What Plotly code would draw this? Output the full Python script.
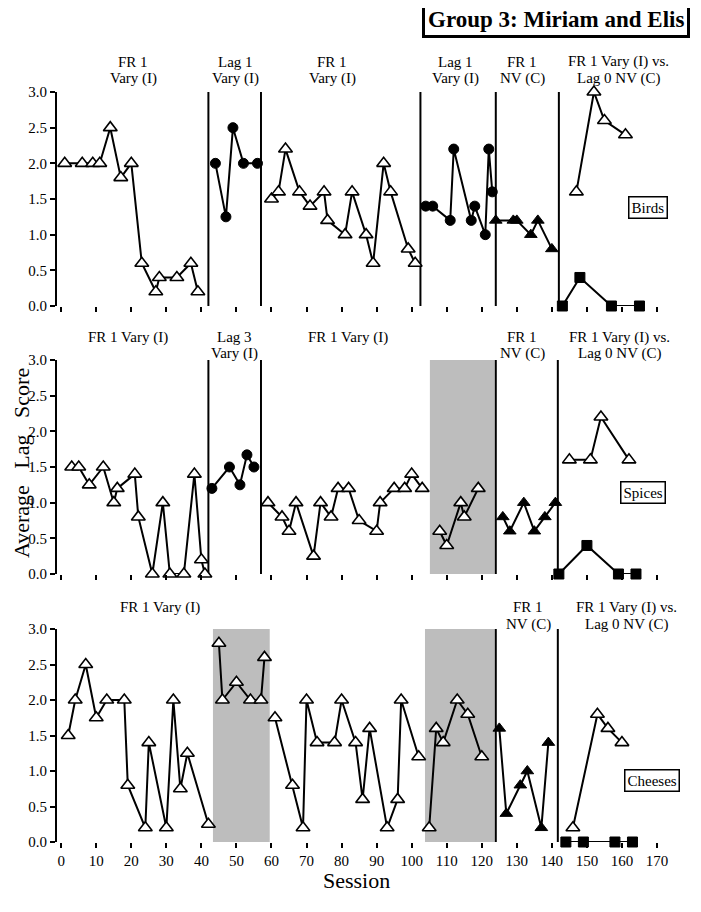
import plotly.graph_objects as go

# ---------------- data ----------------
sessions_ticks = list(range(0, 171, 10))
y_ticks = [0.0, 0.5, 1.0, 1.5, 2.0, 2.5, 3.0]

birds_fr1a_x = [1, 6, 9, 11, 14, 17, 20, 23, 27, 28, 33, 37, 39]
birds_fr1a_y = [2.0, 2.0, 2.0, 2.0, 2.5, 1.8, 2.0, 0.6, 0.2, 0.4, 0.4, 0.6, 0.2]
birds_lag1a_x = [44, 47, 49, 52, 56]
birds_lag1a_y = [2.0, 1.25, 2.5, 2.0, 2.0]
birds_fr1b_x = [60, 62, 64, 68, 71, 75, 76, 81, 83, 87, 89, 92, 94, 99, 101]
birds_fr1b_y = [1.5, 1.6, 2.2, 1.6, 1.4, 1.6, 1.2, 1.0, 1.6, 1.0, 0.6, 2.0, 1.6, 0.8, 0.6]
birds_lag1b_x = [104, 106, 111, 112, 117, 118, 121, 122, 123]
birds_lag1b_y = [1.4, 1.4, 1.2, 2.2, 1.2, 1.4, 1.0, 2.2, 1.6]
birds_nv_x = [124, 129, 130, 134, 136, 140]
birds_nv_y = [1.2, 1.2, 1.2, 1.0, 1.2, 0.8]
birds_vary_x = [147, 152, 155, 161]
birds_vary_y = [1.6, 3.0, 2.6, 2.4]
birds_lag0_x = [143, 148, 157, 165]
birds_lag0_y = [0.0, 0.4, 0.0, 0.0]

spices_fr1a_x = [3, 5, 8, 12, 15, 16, 21, 22, 26, 29, 31, 35, 38, 40, 41]
spices_fr1a_y = [1.5, 1.5, 1.25, 1.5, 1.0, 1.2, 1.4, 0.8, 0.0, 1.0, 0.0, 0.0, 1.4, 0.2, 0.0]
spices_lag3_x = [43, 48, 51, 53, 55]
spices_lag3_y = [1.2, 1.5, 1.25, 1.67, 1.5]
spices_fr1b_x = [59, 63, 65, 67, 72, 74, 77, 79, 82, 85, 90, 91, 95, 98, 100, 103]
spices_fr1b_y = [1.0, 0.8, 0.6, 1.0, 0.25, 1.0, 0.8, 1.2, 1.2, 0.75, 0.6, 1.0, 1.2, 1.2, 1.4, 1.2]
spices_fr1c_x = [108, 110, 114, 115, 119]
spices_fr1c_y = [0.6, 0.4, 1.0, 0.8, 1.2]
spices_nv_x = [126, 128, 132, 135, 138, 141]
spices_nv_y = [0.8, 0.6, 1.0, 0.6, 0.8, 1.0]
spices_vary_x = [145, 151, 154, 162]
spices_vary_y = [1.6, 1.6, 2.2, 1.6]
spices_lag0_x = [142, 150, 159, 164]
spices_lag0_y = [0.0, 0.4, 0.0, 0.0]

cheeses_fr1a_x = [2, 4, 7, 10, 13, 18, 19, 24, 25, 30, 32, 34, 36, 42]
cheeses_fr1a_y = [1.5, 2.0, 2.5, 1.75, 2.0, 2.0, 0.8, 0.2, 1.4, 0.2, 2.0, 0.75, 1.25, 0.25]
cheeses_fr1b_x = [45, 46, 50, 54, 57, 58]
cheeses_fr1b_y = [2.8, 2.0, 2.25, 2.0, 2.0, 2.6]
cheeses_fr1c_x = [61, 66, 69, 70, 73, 78, 80, 84, 86, 88, 93, 96, 97, 102]
cheeses_fr1c_y = [1.75, 0.8, 0.2, 2.0, 1.4, 1.4, 2.0, 1.4, 0.6, 1.6, 0.2, 0.6, 2.0, 1.2]
cheeses_fr1d_x = [105, 107, 109, 113, 116, 120]
cheeses_fr1d_y = [0.2, 1.6, 1.4, 2.0, 1.8, 1.2]
cheeses_nv_x = [125, 127, 131, 133, 137, 139]
cheeses_nv_y = [1.6, 0.4, 0.8, 1.0, 0.2, 1.4]
cheeses_vary_x = [146, 153, 156, 160]
cheeses_vary_y = [0.2, 1.8, 1.6, 1.4]
cheeses_lag0_x = [144, 149, 158, 163]
cheeses_lag0_y = [0.0, 0.0, 0.0, 0.0]

# phase change lines and shaded sessions
birds_phase_lines = [42, 57, 102.5, 124, 142]
spices_phase_lines = [42, 57, 124, 141.7]
cheeses_phase_lines = [124, 141.7]
spices_shade = [(105.2, 123.7)]
cheeses_shade = [(43.3, 59.5), (103.8, 123.7)]

# ---------------- styling ----------------
FONT = "Liberation Serif, Times New Roman, serif"
OFF = 8  # page body margin offset
W, H = 701, 912
ML, MT = 57 - OFF, 92 - OFF
MR = W - (657 - OFF)
MB = H - (842 - OFF)
PW, PH = W - ML - MR, H - MT - MB


def px_x(px):
    return (px - OFF - ML) / PW


def px_y(py):
    return (H - MB - (py - OFF)) / PH


open_tri = dict(symbol="triangle-up", size=12, color="white", line=dict(color="black", width=1.6))
fill_tri = dict(symbol="triangle-up", size=11, color="black", line=dict(color="black", width=1))
fill_circ = dict(symbol="circle", size=10, color="black", line=dict(color="black", width=1))
fill_sq = dict(symbol="square", size=10, color="black", line=dict(color="black", width=1))

fig = go.Figure()


def add(xs, ys, marker, axis_n, lw=2):
    fig.add_trace(go.Scatter(
        x=xs, y=ys, mode="lines+markers",
        line=dict(color="black", width=lw),
        marker=marker, cliponaxis=False, showlegend=False,
        xaxis="x" if axis_n == 1 else f"x{axis_n}",
        yaxis="y" if axis_n == 1 else f"y{axis_n}",
    ))


# panel 1 (top): birds
add(birds_fr1a_x, birds_fr1a_y, open_tri, 1)
add(birds_lag1a_x, birds_lag1a_y, fill_circ, 1)
add(birds_fr1b_x, birds_fr1b_y, open_tri, 1)
add(birds_lag1b_x, birds_lag1b_y, fill_circ, 1)
add(birds_nv_x, birds_nv_y, fill_tri, 1)
add(birds_vary_x, birds_vary_y, open_tri, 1)
add(birds_lag0_x, birds_lag0_y, fill_sq, 1)

# panel 2 (middle): spices
add(spices_fr1a_x, spices_fr1a_y, open_tri, 2)
add(spices_lag3_x, spices_lag3_y, fill_circ, 2)
add(spices_fr1b_x, spices_fr1b_y, open_tri, 2)
add(spices_fr1c_x, spices_fr1c_y, open_tri, 2)
add(spices_nv_x, spices_nv_y, fill_tri, 2)
add(spices_vary_x, spices_vary_y, open_tri, 2)
add(spices_lag0_x, spices_lag0_y, fill_sq, 2)

# panel 3 (bottom): cheeses
add(cheeses_fr1a_x, cheeses_fr1a_y, open_tri, 3)
add(cheeses_fr1b_x, cheeses_fr1b_y, open_tri, 3)
add(cheeses_fr1c_x, cheeses_fr1c_y, open_tri, 3)
add(cheeses_fr1d_x, cheeses_fr1d_y, open_tri, 3)
add(cheeses_nv_x, cheeses_nv_y, fill_tri, 3)
add(cheeses_vary_x, cheeses_vary_y, open_tri, 3)
add(cheeses_lag0_x, cheeses_lag0_y, fill_sq, 3)

domains = {1: [px_y(306), 1.0],
           2: [px_y(574), px_y(360)],
           3: [0.0, px_y(629)]}

layout = dict(
    width=W, height=H,
    margin=dict(l=ML, r=MR, t=MT, b=MB, pad=0),
    paper_bgcolor="white", plot_bgcolor="white",
    font=dict(family=FONT, color="black", size=14),
    showlegend=False,
)

for n in (1, 2, 3):
    xs = "xaxis" if n == 1 else f"xaxis{n}"
    ys = "yaxis" if n == 1 else f"yaxis{n}"
    layout[xs] = dict(
        domain=[0, 1], range=[-1.2, 170], anchor="y" if n == 1 else f"y{n}",
        tickvals=sessions_ticks, ticktext=[str(v) for v in sessions_ticks],
        showticklabels=(n == 3), ticks="outside", ticklen=5, tickwidth=2,
        tickcolor="black", showline=False, showgrid=False, zeroline=False,
        tickfont=dict(family=FONT, size=15, color="black"),
    )
    layout[ys] = dict(
        domain=domains[n], range=[0, 3.0], anchor="x" if n == 1 else f"x{n}",
        tickvals=y_ticks, ticktext=[f"{v:.1f}" for v in y_ticks],
        ticks="outside", ticklen=5, tickwidth=2, tickcolor="black",
        showline=True, linecolor="black", linewidth=2,
        showgrid=False, zeroline=False,
        tickfont=dict(family=FONT, size=15, color="black"),
    )

fig.update_layout(**layout)

shapes = []


def axref(n):
    return ("x" if n == 1 else f"x{n}", "y" if n == 1 else f"y{n}")


for n, shades in ((2, spices_shade), (3, cheeses_shade)):
    xr, yr = axref(n)
    for a, b in shades:
        shapes.append(dict(type="rect", xref=xr, yref=f"{yr} domain", x0=a, x1=b, y0=0, y1=1,
                           fillcolor="#bdbdbd", line=dict(width=0), layer="below"))

for n, lines in ((1, birds_phase_lines), (2, spices_phase_lines), (3, cheeses_phase_lines)):
    xr, yr = axref(n)
    for v in lines:
        shapes.append(dict(type="line", xref=xr, yref=f"{yr} domain", x0=v, x1=v, y0=0, y1=1,
                           line=dict(color="black", width=2), layer="below"))
    # x axis line (offset from y axis, as in the original)
    shapes.append(dict(type="line", xref=xr, yref=yr, x0=0, x1=170, y0=-0.02, y1=-0.02,
                       line=dict(color="black", width=2), layer="above"))

fig.update_layout(shapes=shapes)

ann = []


def label(text, cx, cy, size=15, angle=0):
    ann.append(dict(text=text, x=px_x(cx), y=px_y(cy), xref="paper", yref="paper",
                    xanchor="center", yanchor="middle", showarrow=False, textangle=angle,
                    font=dict(family=FONT, size=size, color="black")))


def label2(l1, l2, cx, cy1, cy2):
    label(l1, cx, cy1)
    label(l2, cx, cy2)


# top panel phase labels
label2("FR 1", "Vary (I)", 133, 62, 79)
label2("Lag 1", "Vary (I)", 235, 62, 79)
label2("FR 1", "Vary (I)", 332, 62, 79)
label2("Lag 1", "Vary (I)", 455, 62, 79)
label2("FR 1", "NV (C)", 522, 62, 79)
label2("FR 1 Vary (I) vs.", "Lag 0 NV (C)", 618, 62, 79)
# middle panel
label("FR 1 Vary (I)", 128, 337)
label2("Lag 3", "Vary (I)", 234, 337, 353)
label("FR 1 Vary (I)", 348, 337)
label2("FR 1", "NV (C)", 522, 337, 353)
label2("FR 1 Vary (I) vs.", "Lag 0 NV (C)", 619, 337, 353)
# bottom panel
label("FR 1 Vary (I)", 160, 607)
label2("FR 1", "NV (C)", 528, 607, 624)
label2("FR 1 Vary (I) vs.", "Lag 0 NV (C)", 626, 607, 624)


def boxed(text, cx, cy, size=15):
    ann.append(dict(text=text, x=px_x(cx), y=px_y(cy), xref="paper", yref="paper",
                    xanchor="center", yanchor="middle", showarrow=False,
                    bordercolor="black", borderwidth=1.5, borderpad=2, bgcolor="white",
                    font=dict(family=FONT, size=size, color="black")))


boxed("Birds", 648, 208)
boxed("Spices", 643, 493)
boxed("Cheeses", 652, 780)

# title box
ann.append(dict(text="<b>Group 3: Miriam and Elis</b>", x=px_x(556), y=px_y(19),
                xref="paper", yref="paper", xanchor="center", yanchor="middle",
                showarrow=False, bordercolor="black", borderwidth=3, borderpad=3,
                bgcolor="white", font=dict(family=FONT, size=23, color="black")))

# y axis title (widely spaced words, as in the original)
label("Average\u2002 Lag\u2002 Score", 21, 463, size=22, angle=-90)
# x axis title
label("Session", 356, 880, size=22)

fig.update_layout(annotations=ann)

fig.write_html("out.html")
